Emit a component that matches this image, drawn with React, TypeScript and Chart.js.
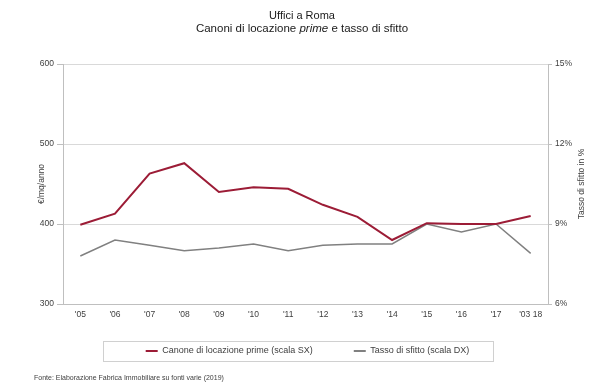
import React, { useEffect, useRef } from "react";
import { Chart, registerables } from "chart.js";

Chart.register(...registerables);

const categories = ["'05", "'06", "'07", "'08", "'09", "'10", "'11", "'12", "'13", "'14", "'15", "'16", "'17", "'03 18"];
const canoneValues = [399, 413, 463, 476, 440, 446, 444, 424, 409, 380, 401, 400, 400, 410];
const sfittoValues = [7.8, 8.4, 8.2, 8.0, 8.1, 8.25, 8.0, 8.2, 8.25, 8.25, 9.0, 8.7, 9.0, 7.9];
const leftAxis = { min: 300, max: 600, step: 100 };
const rightAxis = { min: 6, max: 15, step: 3 };

const titleLine1 = "Uffici a Roma";
const titleLine2 = ["Canoni di locazione ", "prime", " e tasso di sfitto"];
const leftTitle = "€/mq/anno";
const rightTitle = "Tasso di sfitto in %";
const sourceText = "Fonte: Elaborazione Fabrica Immobiliare su fonti varie (2019)";
const seriesLabels = ["Canone di locazione prime (scala SX)", "Tasso di sfitto (scala DX)"];

const FONT = "'Liberation Sans', Arial, sans-serif";
const RED = "#9c1c36";
const GRAY = "#808080";
const TXT = "#404040";

const decorPlugin = {
  id: "decor",
  afterLayout(chart: any) {
    const lg = chart.legend;
    if (lg) {
      const h = lg.bottom - lg.top;
      lg.top = 305.5;
      lg.bottom = 305.5 + h;
    }
  },
  afterDraw(chart: any) {
    const ctx = chart.ctx;
    ctx.save();
    ctx.fillStyle = "#1a1a1a";
    ctx.textBaseline = "middle";
    ctx.font = `11px ${FONT}`;
    ctx.textAlign = "center";
    ctx.fillText(titleLine1, 302, 16);
    const fonts = [`11.5px ${FONT}`, `italic 11.5px ${FONT}`, `11.5px ${FONT}`];
    let total = 0;
    const widths = titleLine2.map((t, i) => {
      ctx.font = fonts[i];
      const w = ctx.measureText(t).width;
      total += w;
      return w;
    });
    let x = 302 - total / 2;
    ctx.textAlign = "left";
    titleLine2.forEach((t, i) => {
      ctx.font = fonts[i];
      ctx.fillText(t, x, 29);
      x += widths[i];
    });
    // right axis title
    ctx.fillStyle = TXT;
    ctx.font = `8.5px ${FONT}`;
    ctx.save();
    ctx.translate(582, (chart.chartArea.top + chart.chartArea.bottom) / 2);
    ctx.rotate(-Math.PI / 2);
    ctx.textAlign = "center";
    ctx.fillText(rightTitle, 0, 0);
    ctx.restore();
    // legend frame
    ctx.strokeStyle = "#d0d0d0";
    ctx.lineWidth = 1;
    ctx.strokeRect(103.5, 341.5, 390, 20);
    // source
    ctx.fillStyle = TXT;
    ctx.font = `7px ${FONT}`;
    ctx.textAlign = "left";
    ctx.fillText(sourceText, 34, 378);
    ctx.restore();
  },
};

export default function App() {
  const ref = useRef<HTMLCanvasElement>(null);
  useEffect(() => {
    if (!ref.current) return;
    const chart = new Chart(ref.current, {
      type: "line",
      data: {
        labels: categories,
        datasets: [
          {
            label: seriesLabels[0],
            data: canoneValues,
            borderColor: RED,
            backgroundColor: RED,
            borderWidth: 2,
            pointRadius: 0,
            tension: 0,
            yAxisID: "y",
          },
          {
            label: seriesLabels[1],
            data: sfittoValues,
            borderColor: GRAY,
            backgroundColor: GRAY,
            borderWidth: 1.5,
            pointRadius: 0,
            tension: 0,
            yAxisID: "y1",
          },
        ],
      },
      options: {
        responsive: false,
        animation: false,
        layout: { padding: { top: 64, left: 8, right: 0, bottom: 0 } },
        plugins: {
          title: { display: false },
          tooltip: { enabled: false },
          legend: {
            position: "bottom",
            labels: {
              boxWidth: 12,
              boxHeight: 2,
              padding: 41,
              color: TXT,
              font: { size: 9, family: FONT },
              generateLabels: (c: any) =>
                Chart.defaults.plugins.legend.labels
                  .generateLabels(c)
                  .map((l: any) => ({ ...l, lineWidth: 0, fillStyle: l.strokeStyle })),
            },
          },
        },
        scales: {
          x: {
            offset: true,
            afterFit: (s: any) => {
              s.height = 19;
            },
            grid: { display: true, drawOnChartArea: false, drawTicks: false },
            border: { display: true, color: "#bfbfbf" },
            ticks: { padding: 6, color: TXT, font: { size: 8.5, family: FONT }, maxRotation: 0, autoSkip: false },
          },
          y: {
            position: "left",
            min: leftAxis.min,
            max: leftAxis.max,
            afterFit: (s: any) => {
              s.width = 55;
            },
            ticks: { stepSize: leftAxis.step, padding: 3, color: TXT, font: { size: 8.5, family: FONT } },
            grid: { color: "#d9d9d9", tickLength: 6, tickColor: "#bfbfbf" },
            border: { display: true, color: "#bfbfbf" },
            title: {
              display: true,
              text: leftTitle,
              color: TXT,
              font: { size: 8.5, family: FONT },
              padding: { top: 29, bottom: 0 },
            },
          },
          y1: {
            position: "right",
            min: rightAxis.min,
            max: rightAxis.max,
            afterFit: (s: any) => {
              s.width = 59;
            },
            ticks: {
              stepSize: rightAxis.step,
              padding: 3,
              color: TXT,
              font: { size: 8.5, family: FONT },
              callback: (v: any) => `${v}%`,
            },
            grid: { drawOnChartArea: false, tickLength: 4, tickColor: "#bfbfbf" },
            border: { display: true, color: "#bfbfbf" },
          },
        },
      },
      plugins: [decorPlugin],
    } as any);
    return () => chart.destroy();
  }, []);
  return (
    <div style={{ position: "absolute", left: 0, top: 0, width: 607, height: 383, background: "#fff" }}>
      <canvas ref={ref} width={607} height={383} />
    </div>
  );
}
